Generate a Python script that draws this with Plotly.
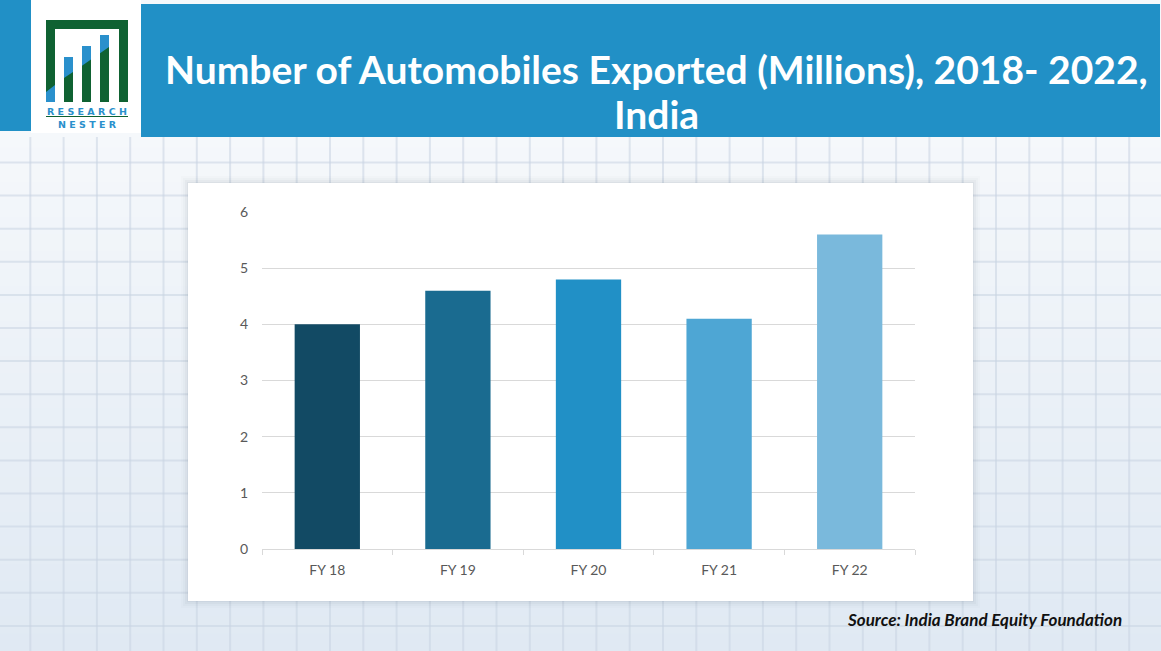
import plotly.graph_objects as go

W, H = 1161, 651

categories = ["FY 18", "FY 19", "FY 20", "FY 21", "FY 22"]
exports_millions = [4.0, 4.6, 4.8, 4.1, 5.6]
bar_colors = ["#124a64", "#1a6b90", "#2190c6", "#4ea6d4", "#7ab9dc"]
y_ticks = [0, 1, 2, 3, 4, 5, 6]

title_line1 = "Number of Automobiles Exported (Millions), 2018- 2022,"
title_line2 = "India"
source_text = "Source: India Brand Equity Foundation"
logo_line1 = "R E S E A R C H"
logo_line2 = "N E S T E R"


def px(x):
    return x / W


def py(y):
    return 1 - y / H


def rect(x0, y0, x1, y1, color, layer="below", line=None):
    return dict(type="rect", xref="paper", yref="paper",
                x0=px(x0), x1=px(x1), y0=py(y1), y1=py(y0),
                fillcolor=color, line=line or dict(width=0), layer=layer)


def path(points, color, layer="below"):
    d = "M " + " L ".join(f"{px(x)},{py(y)}" for x, y in points) + " Z"
    return dict(type="path", xref="paper", yref="paper", path=d,
                fillcolor=color, line=dict(width=0), layer=layer)


def lerp(c1, c2, t):
    return "rgb(%d,%d,%d)" % tuple(round(a + (b - a) * t) for a, b in zip(c1, c2))


shapes = []
# background gradient
top_c, bot_c = (245, 248, 251), (224, 233, 243)
n = 30
for i in range(n):
    y0 = 130 + (H - 130) * i / n
    y1 = 130 + (H - 130) * (i + 1) / n + 1
    shapes.append(rect(0, y0, W, y1, lerp(top_c, bot_c, i / (n - 1))))
shapes.append(rect(0, 0, W, 131, "rgb(245,248,251)"))

# background grid
gx = 30.3
while gx < W:
    shapes.append(dict(type="line", xref="paper", yref="paper", x0=px(gx), x1=px(gx),
                       y0=0, y1=py(137), line=dict(color="rgba(200,211,226,0.55)", width=2),
                       layer="below"))
    gx += 33.3
gy = 162.5
while gy < H:
    shapes.append(dict(type="line", xref="paper", yref="paper", x0=0, x1=1,
                       y0=py(gy), y1=py(gy), line=dict(color="rgba(200,211,226,0.55)", width=2),
                       layer="below"))
    gy += 33.1

# header
BLUE = "#2190c6"
shapes.append(rect(0, 0, 31, 131, BLUE))
shapes.append(rect(31, 0, 141, 133, "#ffffff"))
shapes.append(rect(141, 4, 1160, 137, BLUE))

# logo
GREEN = "#0f6232"
LBLUE = "#2a90cc"
shapes.append(rect(46, 20, 128, 29, GREEN))
shapes.append(rect(46, 20, 55, 102, GREEN))
shapes.append(rect(119, 20, 128, 102, GREEN))
shapes.append(path([(46, 92), (55, 85), (55, 102), (46, 102)], LBLUE))


def diag(x):
    return 75 - 0.69 * (x - 68.5)


for bx0, top in [(64, 57), (82, 46), (100, 35)]:
    bx1 = bx0 + 9
    shapes.append(rect(bx0, top, bx1, 102, LBLUE))
    shapes.append(path([(bx0, diag(bx0)), (bx1, diag(bx1)), (bx1, 102), (bx0, 102)], GREEN))
shapes.append(dict(type="line", xref="paper", yref="paper", x0=px(46), x1=px(128),
                   y0=py(116.5), y1=py(116.5), line=dict(color=GREEN, width=1), layer="below"))

# chart card with shadow
for i, a in [(7, 0.015), (5, 0.025), (3, 0.035), (1, 0.05)]:
    shapes.append(rect(188 - i, 183 - i, 973 + i, 601 + i, f"rgba(60,70,90,{a})"))
shapes.append(rect(188, 183, 973, 601, "#ffffff"))

fig = go.Figure()
fig.add_trace(go.Bar(
    x=categories, y=exports_millions, marker=dict(color=bar_colors, line=dict(width=0)),
    width=0.5, hoverinfo="x+y",
))

tick_font = dict(family="Lato, 'Open Sans', sans-serif", size=14, color="#595959")

fig.update_layout(
    width=W, height=H, autosize=False,
    margin=dict(l=0, r=0, t=0, b=0, pad=0, autoexpand=False),
    paper_bgcolor="#f3f6fa", plot_bgcolor="rgba(0,0,0,0)",
    showlegend=False, shapes=shapes,
    xaxis=dict(domain=[px(262), px(915)], showgrid=False, showline=True, automargin=False,
               linecolor="#d9d9d9", linewidth=1, ticks="outside", tickson="boundaries",
               ticklen=5, tickcolor="#d9d9d9", tickfont=tick_font, zeroline=False,
               ticklabelstandoff=8),
    yaxis=dict(domain=[py(549), py(212)], range=[0, 6], tickvals=y_ticks, automargin=False,
               showgrid=True, gridcolor="#d9d9d9", gridwidth=1, zeroline=False,
               showline=False, ticks="", tickfont=tick_font, ticklabelstandoff=13),
    annotations=[
        dict(text=f"<b>{title_line1}</b>", x=px(656), y=py(69), xref="paper", yref="paper",
             xanchor="center", yanchor="middle", showarrow=False,
             font=dict(family="Lato", size=39, color="#ffffff")),
        dict(text=f"<b>{title_line2}</b>", x=px(656), y=py(114), xref="paper", yref="paper",
             xanchor="center", yanchor="middle", showarrow=False,
             font=dict(family="Lato", size=39, color="#ffffff")),
        dict(text=f"<b>{logo_line1}</b>", x=px(87), y=py(111.5), xref="paper", yref="paper",
             xanchor="center", yanchor="middle", showarrow=False,
             font=dict(family="DejaVu Sans", size=9.5, color=LBLUE)),
        dict(text=f"<b>{logo_line2}</b>", x=px(87), y=py(124.5), xref="paper", yref="paper",
             xanchor="center", yanchor="middle", showarrow=False,
             font=dict(family="DejaVu Sans", size=9.5, color=LBLUE)),
        dict(text=f"<b><i>{source_text}</i></b>", x=px(1124), y=py(619), xref="paper",
             yref="paper", xanchor="right", yanchor="middle", showarrow=False,
             font=dict(family="Lato", size=17, color="#111111")),
    ],
)

fig.write_html("out.html", config={"displayModeBar": False, "responsive": False})

# pin the figure to the top-left corner of the page, with no page margins
css = ("<style>html,body{margin:0;padding:0;overflow:hidden;width:%dpx;height:%dpx;}"
       ".plotly-graph-div{position:fixed !important;top:0;left:0;}</style>" % (W, H))
with open("out.html", "r", encoding="utf-8") as f:
    html = f.read()
html = html.replace("<head>", "<head>" + css, 1)
with open("out.html", "w", encoding="utf-8") as f:
    f.write(html)
